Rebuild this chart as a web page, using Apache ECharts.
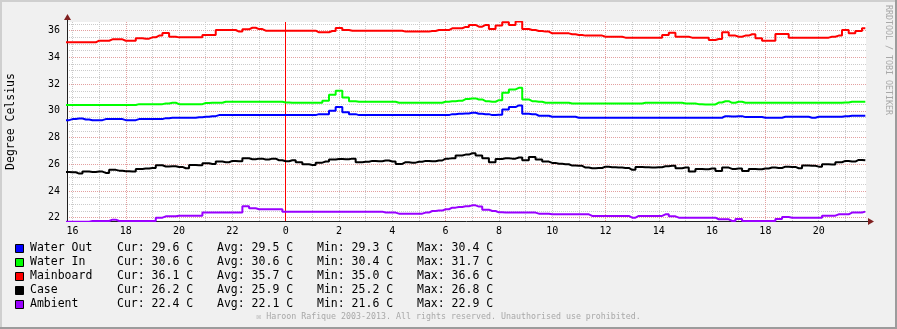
<!DOCTYPE html>
<html><head><meta charset="utf-8">
<script src="https://cdn.jsdelivr.net/npm/echarts@6/dist/echarts.min.js"></script>
<style>html,body{margin:0;padding:0;background:#F0F0F0}#c{width:897px;height:329px}</style>
</head><body><div id="c"></div>
<script>
// ---- data (hours relative to midnight; samples every 15 minutes) ----
const startHour = -8.25;
const stepHours = 0.25;
const waterOut = [29.3,29.38,29.43,29.35,29.3,29.3,29.38,29.38,29.38,29.3,29.3,
 29.38,29.38,29.38,29.38,29.45,29.48,29.48,29.48,29.48,29.52,29.55,29.6,
 29.68,29.68,29.68,29.68,29.68,29.68,29.68,29.68,29.68,29.68,29.68,29.68,29.68,29.68,29.68,
 29.75,29.75,30.0,30.28,29.9,29.75,
 29.68,29.68,29.68,29.68,29.68,29.68,29.68,29.68,29.68,29.68,29.68,29.68,29.68,29.68,
 29.75,29.78,
 29.8,29.85,29.78,29.75,29.68,29.7,30.1,30.28,30.4,29.78,29.75,29.63,29.63,
 29.55,29.55,29.55,29.55,
 29.48,29.48,29.48,29.48,29.48,29.48,29.48,29.48,29.48,29.48,29.48,29.48,29.48,29.48,29.48,29.48,29.48,29.48,29.48,29.48,29.48,29.48,
 29.6,29.58,29.6,29.53,29.53,29.53,
 29.48,29.48,29.48,
 29.55,29.55,29.55,29.55,
 29.48,
 29.55,29.55,29.55,29.55,
 29.6,
 29.63,29.63,29.63];
const waterIn = [30.43,30.43,30.43,30.43,30.43,30.43,30.43,30.43,30.43,30.43,30.43,
 30.5,30.5,30.5,30.5,30.55,30.6,30.5,30.5,30.5,30.5,30.58,30.6,30.6,
 30.68,30.68,30.68,30.68,30.68,30.68,30.68,30.68,30.68,30.62,
 30.6,30.6,30.6,30.6,30.6,
 30.75,31.2,31.5,31.0,30.72,
 30.68,30.68,30.68,30.68,30.68,30.68,
 30.6,30.6,30.6,30.6,30.6,30.6,30.6,
 30.68,30.72,30.75,
 30.88,30.93,30.85,30.72,30.68,30.8,31.35,31.6,31.72,30.85,30.72,30.68,30.6,
 30.6,30.6,30.6,
 30.55,30.55,30.55,30.55,30.55,30.55,30.55,30.55,30.55,30.55,30.55,
 30.6,30.6,30.6,30.6,30.6,30.6,
 30.55,30.55,
 30.5,30.48,30.48,
 30.62,30.72,30.6,30.68,
 30.6,30.6,30.6,30.6,30.6,30.6,30.6,30.6,30.6,30.6,30.6,30.6,30.6,30.6,30.6,
 30.62,30.68,30.68,30.68];
const mainboard = [35.13,35.13,35.13,35.13,35.13,35.25,35.25,35.35,35.35,35.25,35.25,
 35.43,35.4,35.5,35.63,35.83,35.55,35.5,35.5,35.5,35.5,35.68,35.68,
 36.05,36.05,36.05,35.93,36.1,36.22,36.12,
 36.0,36.0,36.0,36.0,36.0,36.0,36.0,36.0,
 35.88,35.88,35.98,36.2,36.05,
 36.0,36.0,36.0,36.0,36.0,36.0,36.0,36.0,
 35.93,35.93,35.93,35.93,35.98,36.05,36.05,36.18,36.18,
 36.28,36.43,36.3,36.43,36.13,36.38,36.63,36.43,36.68,36.13,36.05,35.98,35.93,
 35.8,35.8,35.8,35.73,35.68,35.63,35.63,35.63,35.55,35.55,35.55,35.48,
 35.48,35.48,35.48,35.48,35.48,
 35.68,35.85,35.55,35.55,
 35.48,35.48,35.48,
 35.3,35.38,35.88,35.63,35.55,35.63,35.73,35.43,
 35.25,35.25,35.75,35.75,
 35.48,35.48,35.48,35.48,35.48,35.48,
 35.55,35.63,36.05,35.8,35.98,36.18];
const caseTemp = [25.42,25.4,25.3,25.45,25.42,25.45,25.35,25.58,25.52,25.48,
 25.45,25.65,25.68,25.72,25.92,25.83,25.85,25.8,25.7,25.95,
 25.92,26.08,26.02,26.2,26.15,26.25,26.22,26.45,26.38,26.42,
 26.35,26.42,26.3,26.22,26.3,26.15,26.0,25.95,26.12,26.2,
 26.35,26.4,26.38,26.42,26.15,26.18,26.25,26.22,26.28,26.2,
 26.02,26.15,26.12,26.18,26.25,26.22,26.28,26.42,26.45,26.65,
 26.72,26.82,26.65,26.45,26.15,26.4,26.45,26.42,26.5,26.3,
 26.55,26.35,26.2,26.1,26.03,26.0,25.9,25.88,25.75,25.7,
 25.72,25.82,25.78,25.75,25.72,25.58,25.8,25.78,25.75,25.78,
 25.85,25.88,25.7,25.75,25.45,25.65,25.62,25.68,25.5,25.75,
 25.65,25.68,25.5,25.65,25.62,25.68,25.75,25.72,25.82,25.8,
 25.7,25.9,25.88,25.82,26.0,25.98,26.15,26.25,26.2,26.32,
 26.3];
const ambient = [21.7,21.7,21.7,21.7,21.75,21.75,21.75,21.85,
 21.75,21.75,21.75,21.75,21.75,21.75,22.0,22.1,22.1,22.15,22.15,22.15,22.15,
 22.38,22.38,22.38,22.38,22.38,22.38,22.85,22.7,22.63,22.63,22.63,22.63,
 22.45,22.45,22.45,22.45,22.45,22.45,22.45,22.45,22.45,22.45,22.45,22.45,22.45,22.45,22.45,
 22.38,22.38,22.3,22.3,22.3,22.3,22.38,22.5,22.53,22.63,22.75,22.8,
 22.85,22.92,22.83,22.6,22.5,22.4,
 22.38,22.38,22.38,22.38,22.38,22.3,22.3,
 22.25,22.25,22.25,22.25,22.25,22.25,
 22.13,22.13,22.13,22.13,22.13,22.13,22.0,22.13,22.13,22.13,22.13,22.25,22.1,
 22.0,22.0,22.0,22.0,22.0,22.0,21.88,21.88,21.75,21.9,
 21.75,21.75,21.75,21.75,21.75,21.9,22.05,
 22.0,22.0,22.0,22.0,22.0,22.15,22.15,22.25,22.25,22.38,22.38,22.45];

const seriesNames = ['Water Out', 'Water In', 'Mainboard', 'Case', 'Ambient'];
const curVals = [29.6, 30.6, 36.1, 26.2, 22.4];
const avgVals = [29.5, 30.6, 35.7, 25.9, 22.1];
const minVals = [29.3, 30.4, 35.0, 25.2, 21.6];
const maxVals = [30.4, 31.7, 36.6, 26.8, 22.9];
const unitText = 'C';
const yTitle = 'Degree Celsius';
const xRange = [-8.206, 21.775];
const yRange = [21.75, 36.65];
// grid ticks: [first, last, step]
const xMinorTicks = [-8, 21, 1];
const xMajorTicks = [-6, 18, 6];
const xLabelStep = 2;
const yMinorTicks = [22, 36.5, 0.5];
const yLabelStep = 2;
const dayBoundary = 0;          // midnight rule (hours)
const creditText = 'RRDTOOL / TOBI OETIKER';
const footerText = '\u2612 Haroon Rafique 2003-2013. All rights reserved. Unauthorised use prohibited.';

// ---- styles / layout ----
const lineColors = ['#0000FF', '#00FF00', '#FF0000', '#000000', '#9900FF'];
const MONO = 'DejaVu Sans Mono';
const minorGrid = { color: '#CBCBCB', width: 1, type: [1, 1] };
const majorGrid = { color: '#E3A0A0', width: 1, type: [1, 1] };
const ruleStyle = { color: '#FF0000', width: 1, type: 'solid' };
const G = { left: 67, right: 31, top: 22, bottom: 108 };
const W = 897, H = 329;
const pxH = (W - G.left - G.right) / (xRange[1] - xRange[0]);
const pxV = (H - G.top - G.bottom) / (yRange[1] - yRange[0]);

const allSeries = [waterOut, waterIn, mainboard, caseTemp, ambient];
const times = waterOut.map((_, i) => startHour + i * stepHours);
const ruleTicks = [dayBoundary, dayBoundary + 12, 12];

const gridBase = { containLabel: false, outerBoundsMode: 'none' };
const xBand = t => Object.assign({ show: false, top: G.top, bottom: G.bottom,
  left: G.left + (t[0] - xRange[0]) * pxH, right: G.right + (xRange[1] - t[1]) * pxH }, gridBase);
const grids = [
  Object.assign({ show: true, backgroundColor: '#FFFFFF', borderWidth: 0 }, gridBase, G),
  xBand(xMinorTicks),
  xBand(xMajorTicks),
  Object.assign({ show: false, left: G.left, right: G.right,
    top: G.top + (yRange[1] - yMinorTicks[1]) * pxV, bottom: G.bottom + (yMinorTicks[0] - yRange[0]) * pxV }, gridBase),
  xBand(ruleTicks)
];

const dummy = gi => ({ type: 'value', gridIndex: gi, show: false, min: 0, max: 1 });
const gridAxis = (gi, t, style, pos, z, showMax) => ({
  type: 'value', gridIndex: gi, position: pos, min: t[0], max: t[1], interval: t[2], z: z,
  axisLine: { show: false }, axisTick: { show: false }, axisLabel: { show: false },
  splitLine: { show: true, showMinLine: true, showMaxLine: showMax !== false, lineStyle: style }
});

const xAxes = [
  { type: 'value', gridIndex: 0, position: 'bottom', min: xRange[0], max: xRange[1],
    minInterval: xLabelStep, maxInterval: xLabelStep, z: 3,
    axisLine: { show: true, onZero: false, lineStyle: { color: '#202020', width: 1 } },
    axisTick: { show: false }, splitLine: { show: false },
    axisLabel: { show: true, showMinLabel: false, showMaxLabel: false, margin: 5,
      color: '#000', fontFamily: MONO, fontSize: 10,
      formatter: v => String(((Math.round(v) % 24) + 24) % 24) } },
  gridAxis(1, xMinorTicks, minorGrid, 'bottom', 0),
  gridAxis(2, xMajorTicks, majorGrid, 'bottom', 1),
  dummy(3),
  gridAxis(4, ruleTicks, ruleStyle, 'bottom', 4, false)
];
const yAxes = [
  { type: 'value', gridIndex: 0, position: 'left', min: yRange[0], max: yRange[1],
    minInterval: yLabelStep, maxInterval: yLabelStep, z: 2,
    axisLine: { show: true, onZero: false, lineStyle: { color: '#202020', width: 1 } },
    axisTick: { show: false },
    splitLine: { show: true, showMinLine: false, showMaxLine: false, lineStyle: majorGrid },
    axisLabel: { show: true, showMinLabel: false, showMaxLabel: false, margin: 7,
      color: '#000', fontFamily: MONO, fontSize: 10 },
    name: yTitle, nameLocation: 'middle', nameRotate: 90, nameGap: 50,
    nameTextStyle: { color: '#000', fontFamily: MONO, fontSize: 11.5 } },
  dummy(1),
  dummy(2),
  gridAxis(3, yMinorTicks, minorGrid, 'left', 0),
  dummy(4)
];

const series = allSeries.map((vals, i) => ({
  name: seriesNames[i], type: 'line', xAxisIndex: 0, yAxisIndex: 0, z: 5 + i,
  step: 'middle', showSymbol: false, symbol: 'none', silent: true,
  lineStyle: { color: lineColors[i], width: 2 }, itemStyle: { color: lineColors[i] },
  data: vals.map((v, k) => [times[k], v])
}));

// legend / decorations
const graphics = [
  { type: 'rect', shape: { x: 0, y: 0, width: W, height: 2 }, style: { fill: '#CFCFCF' }, silent: true },
  { type: 'rect', shape: { x: 0, y: 0, width: 2, height: H }, style: { fill: '#CFCFCF' }, silent: true },
  { type: 'rect', shape: { x: W - 2, y: 0, width: 2, height: H }, style: { fill: '#9C9C9C' }, silent: true },
  { type: 'rect', shape: { x: 0, y: H - 2, width: W, height: 2 }, style: { fill: '#9C9C9C' }, silent: true },
  { type: 'line', shape: { x1: G.left + 0.5, y1: G.top, x2: G.left + 0.5, y2: 17 }, style: { stroke: '#202020', lineWidth: 1 }, silent: true },
  { type: 'polygon', shape: { points: [[64, 20], [71, 20], [67.5, 14]] }, style: { fill: '#802020' }, silent: true },
  { type: 'line', shape: { x1: W - G.right, y1: H - G.bottom + 0.5, x2: 870, y2: H - G.bottom + 0.5 }, style: { stroke: '#202020', lineWidth: 1 }, silent: true },
  { type: 'polygon', shape: { points: [[868, 218], [868, 225], [874, 221.5]] }, style: { fill: '#802020' }, silent: true },
  { type: 'text', x: 888.5, y: 60, rotation: -Math.PI / 2, silent: true,
    style: { text: creditText, fill: '#A8A8A8', fontFamily: MONO, fontSize: 8.3,
      textAlign: 'center', textVerticalAlign: 'middle', align: 'center', verticalAlign: 'middle' } },
  { type: 'text', x: 448.5, y: 317, silent: true,
    style: { text: footerText, fill: '#A8A8A8', fontFamily: MONO, fontSize: 8.3,
      textAlign: 'center', textVerticalAlign: 'middle', align: 'center', verticalAlign: 'middle' } }
];
seriesNames.forEach((nm, i) => {
  const cy = 248.5 + 14 * i;
  graphics.push({ type: 'rect', shape: { x: 15.5, y: cy - 4, width: 8, height: 8 },
    style: { fill: lineColors[i], stroke: '#000', lineWidth: 1 }, silent: true });
  const cols = [
    [30, nm],
    [117, 'Cur: ' + curVals[i].toFixed(1) + ' ' + unitText],
    [217, 'Avg: ' + avgVals[i].toFixed(1) + ' ' + unitText],
    [317, 'Min: ' + minVals[i].toFixed(1) + ' ' + unitText],
    [417, 'Max: ' + maxVals[i].toFixed(1) + ' ' + unitText]
  ];
  cols.forEach(([x, t]) => graphics.push({ type: 'text', x: x, y: cy, silent: true,
    style: { text: t, fill: '#000', fontFamily: MONO, fontSize: 11.5,
      textAlign: 'left', textVerticalAlign: 'middle', align: 'left', verticalAlign: 'middle' } }));
});

const chart = echarts.init(document.getElementById('c'), null, { renderer: 'canvas' });
chart.setOption({
  animation: false,
  backgroundColor: '#F0F0F0',
  grid: grids,
  xAxis: xAxes,
  yAxis: yAxes,
  series: series,
  graphic: graphics
});
</script>
</body></html>
